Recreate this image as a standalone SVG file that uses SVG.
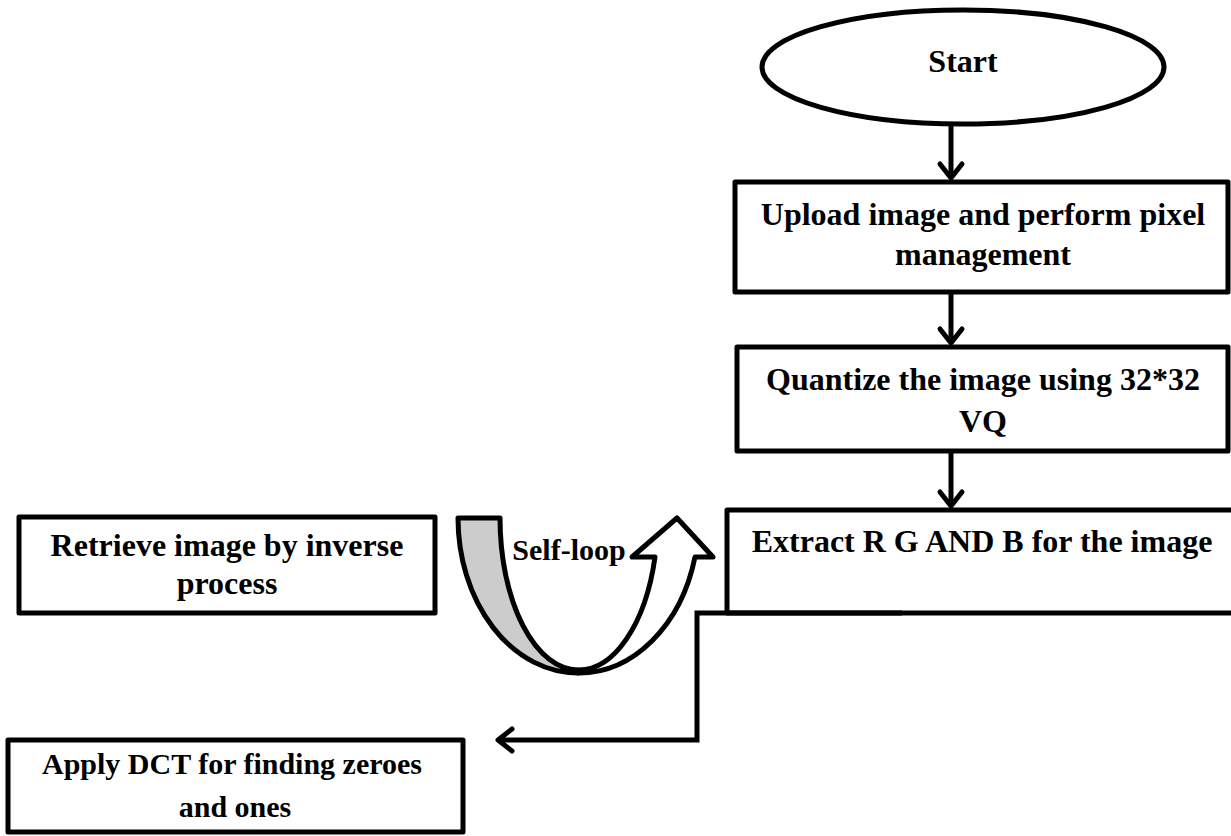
<svg xmlns="http://www.w3.org/2000/svg" width="1231" height="836" viewBox="0 0 1231 836">
<style>
.box{fill:#fff;stroke:#000;stroke-width:5;stroke-linejoin:round}
.t{font-family:"Liberation Serif","Times New Roman",serif;font-weight:bold;font-size:32px;fill:#000;text-anchor:middle}
.ln{fill:none;stroke:#000;stroke-width:5}
.hd{fill:none;stroke:#000;stroke-width:5;stroke-linecap:round;stroke-linejoin:round}
</style>
<rect width="1231" height="836" fill="#fff"/>
<g id="start">
<ellipse cx="963" cy="67" rx="201" ry="57" class="box"/>
<text x="963" y="72" class="t">Start</text>
</g>
<g id="upload">
<rect x="735" y="182" width="493" height="110" class="box"/>
<text x="983" y="225" class="t">Upload image and perform pixel</text>
<text x="983" y="265" class="t">management</text>
</g>
<g id="quantize">
<rect x="737" y="347" width="491" height="104" class="box"/>
<text x="983" y="390" class="t">Quantize the image using 32*32</text>
<text x="983" y="432" class="t">VQ</text>
</g>
<g id="extract">
<path d="M1240,510 H727 V613 H1240" class="box"/>
<text x="982" y="552" class="t">Extract R G AND B for the image</text>
</g>
<g id="retrieve">
<rect x="19" y="517" width="416" height="96" class="box"/>
<text x="227" y="556" class="t">Retrieve image by inverse</text>
<text x="227" y="594" class="t">process</text>
</g>
<g id="dct">
<rect x="8" y="740" width="455" height="92" class="box"/>
<text x="232" y="774" class="t" style="font-size:30px">Apply DCT for finding zeroes</text>
<text x="235" y="817" class="t" style="font-size:30px">and ones</text>
</g>
<g id="selfloop">
<path d="M458,518 L500,518 A78,152 0 0 0 578,670 L578,673 A120,155 0 0 1 458,518 Z" fill="#ccc" stroke="#000" stroke-width="5" stroke-linejoin="round"/>
<path d="M578,673 A120,155 0 0 0 695,557 L713,557 L677,518 L632,557 L655,557 A79,152 0 0 1 578,670 Z" fill="#fff" stroke="#000" stroke-width="5" stroke-linejoin="round"/>
<text x="569" y="560" class="t" style="font-size:30px">Self-loop</text>
</g>
<g id="connectors">
<line x1="951" y1="125" x2="951" y2="178" class="ln"/>
<polyline points="940,164 951,178 962,164" class="hd"/>
<line x1="951" y1="292" x2="951" y2="343" class="ln"/>
<polyline points="940,329 951,343 962,329" class="hd"/>
<line x1="951" y1="451" x2="951" y2="506" class="ln"/>
<polyline points="940,492 951,506 962,492" class="hd"/>
<polyline points="902,613 697,613 697,740 499,740" class="ln"/>
<polyline points="512,729 498,740 512,751" class="hd"/>
</g>
</svg>
